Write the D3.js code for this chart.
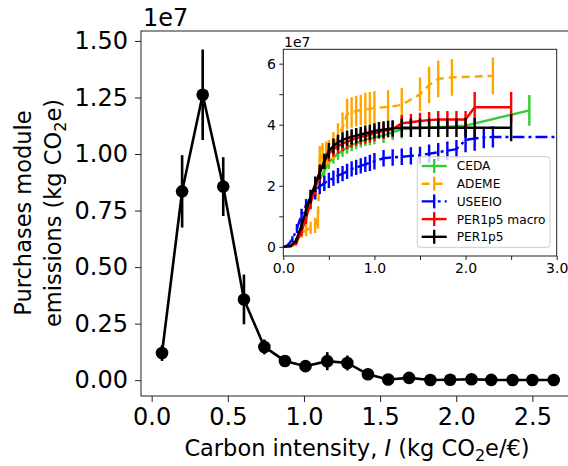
<!DOCTYPE html>
<html>
<head>
<meta charset="utf-8">
<script src="https://cdn.jsdelivr.net/npm/d3@7"></script>
<style>
  body { margin: 0; background: #fff; }
  svg { font-family: "DejaVu Sans", sans-serif; }
</style>
</head>
<body>
<svg id="chart" width="568" height="466"></svg>
<script>
// main panel: emissions per carbon-intensity bin (units of 1e7 kg CO2e)
var binX = [0.068, 0.2, 0.335, 0.47, 0.606, 0.74, 0.875, 1.01, 1.153, 1.285, 1.42, 1.553, 1.69, 1.83, 1.96, 2.1, 2.23, 2.37, 2.5, 2.64];
var binY = [0.12, 0.835, 1.262, 0.856, 0.357, 0.147, 0.085, 0.062, 0.084, 0.076, 0.026, 0.003, 0.01, 0.001, 0.002, 0.004, 0.0015, 0.001, 0.0008, 0.0005];
var binErr = [0.035, 0.16, 0.2, 0.13, 0.11, 0.033, 0.015, 0.015, 0.04, 0.033, 0.01, 0.005, 0.008, 0.003, 0.003, 0.005, 0.003, 0.002, 0.002, 0.001];

var mainXTicks = [0, 0.5, 1, 1.5, 2, 2.5];
var mainYTicks = [0, 0.25, 0.5, 0.75, 1, 1.25, 1.5];

// inset: cumulative emissions per database (units of 1e7)
var cedaX = [0, 0.08, 0.14, 0.2, 0.25, 0.3, 0.35, 0.4, 0.45, 0.5, 0.55, 0.6, 0.65, 0.7, 0.75, 0.8, 0.85, 0.9, 0.95, 1.0, 1.1, 1.2, 1.3, 2.0, 2.7];
var cedaY = [0, 0.02, 0.15, 0.55, 1.0, 1.45, 1.85, 2.2, 2.5, 2.75, 2.92, 3.05, 3.15, 3.25, 3.33, 3.4, 3.45, 3.5, 3.55, 3.58, 3.65, 3.75, 3.85, 3.97, 4.47];
var cedaE = [0.02, 0.03, 0.05, 0.1, 0.15, 0.18, 0.2, 0.2, 0.2, 0.2, 0.2, 0.2, 0.2, 0.2, 0.2, 0.2, 0.2, 0.2, 0.22, 0.22, 0.25, 0.25, 0.3, 0.3, 0.5];

var ademeX = [0, 0.1, 0.15, 0.2, 0.25, 0.3, 0.35, 0.38, 0.4, 0.43, 0.47, 0.5, 0.55, 0.6, 0.65, 0.7, 0.75, 0.8, 0.85, 0.9, 0.95, 1.0, 1.15, 1.3, 1.5, 1.6, 1.7, 1.85, 2.3];
var ademeY = [0, 0.05, 0.2, 0.45, 0.55, 0.62, 0.7, 0.9, 2.9, 3.0, 3.05, 3.1, 3.3, 3.6, 3.9, 4.35, 4.4, 4.45, 4.48, 4.5, 4.52, 4.55, 4.58, 4.65, 5.0, 5.3, 5.5, 5.55, 5.6];
var ademeE = [0.02, 0.05, 0.1, 0.15, 0.2, 0.2, 0.25, 0.3, 0.4, 0.4, 0.4, 0.4, 0.45, 0.45, 0.5, 0.5, 0.5, 0.5, 0.5, 0.55, 0.55, 0.55, 0.55, 0.55, 0.55, 0.6, 0.6, 0.6, 0.6];

var useeioX = [0, 0.05, 0.1, 0.15, 0.2, 0.25, 0.3, 0.35, 0.4, 0.45, 0.5, 0.55, 0.6, 0.65, 0.7, 0.75, 0.8, 0.85, 0.9, 0.95, 1.0, 1.1, 1.2, 1.3, 1.4, 1.5, 1.6, 1.7, 1.8, 1.9, 2.0, 2.1, 2.2, 2.3, 3.1];
var useeioY = [0, 0.05, 0.25, 0.6, 1.05, 1.35, 1.6, 1.8, 1.98, 2.08, 2.18, 2.25, 2.33, 2.4, 2.47, 2.55, 2.6, 2.65, 2.7, 2.75, 2.8, 2.9, 2.93, 2.95, 2.98, 3.0, 3.05, 3.1, 3.15, 3.2, 3.5, 3.55, 3.58, 3.6, 3.6];
var useeioE = [0.02, 0.05, 0.1, 0.15, 0.2, 0.22, 0.25, 0.25, 0.25, 0.25, 0.25, 0.25, 0.25, 0.25, 0.25, 0.25, 0.25, 0.25, 0.25, 0.27, 0.27, 0.27, 0.27, 0.27, 0.28, 0.28, 0.3, 0.3, 0.3, 0.3, 0.4, 0.4, 0.35, 0.35, 0.35];

var macroX = [0, 0.08, 0.14, 0.2, 0.25, 0.3, 0.35, 0.4, 0.45, 0.5, 0.55, 0.6, 0.65, 0.7, 0.75, 0.8, 0.85, 0.9, 0.95, 1.0, 1.1, 1.2, 1.3, 1.4, 1.5, 1.6, 1.7, 1.8, 1.9, 2.0, 2.1, 2.5];
var macroY = [0, 0.02, 0.12, 0.5, 0.95, 1.45, 1.95, 2.4, 2.8, 3.05, 3.2, 3.3, 3.38, 3.45, 3.5, 3.55, 3.6, 3.63, 3.67, 3.72, 3.8, 3.85, 4.05, 4.08, 4.12, 4.15, 4.17, 4.17, 4.17, 4.17, 4.57, 4.57];
var macroE = [0.02, 0.03, 0.08, 0.15, 0.2, 0.22, 0.25, 0.25, 0.25, 0.25, 0.25, 0.25, 0.25, 0.25, 0.25, 0.25, 0.25, 0.25, 0.25, 0.25, 0.27, 0.27, 0.27, 0.27, 0.27, 0.27, 0.28, 0.28, 0.28, 0.28, 0.5, 0.5];

var per15X = [0, 0.08, 0.14, 0.2, 0.25, 0.3, 0.35, 0.4, 0.45, 0.5, 0.55, 0.6, 0.65, 0.7, 0.75, 0.8, 0.85, 0.9, 0.95, 1.0, 1.05, 1.1, 1.15, 1.2, 1.3, 1.4, 1.5, 1.6, 1.7, 1.8, 1.9, 2.0, 2.1, 2.5];
var per15Y = [0, 0.03, 0.2, 0.7, 1.2, 1.65, 2.05, 2.45, 2.8, 3.15, 3.3, 3.42, 3.5, 3.56, 3.6, 3.64, 3.68, 3.72, 3.75, 3.8, 3.82, 3.84, 3.86, 3.88, 3.9, 3.9, 3.9, 3.9, 3.9, 3.9, 3.9, 3.9, 3.9, 3.9];
var per15E = [0.02, 0.03, 0.08, 0.15, 0.2, 0.22, 0.25, 0.25, 0.25, 0.25, 0.25, 0.25, 0.25, 0.25, 0.25, 0.25, 0.25, 0.25, 0.25, 0.25, 0.27, 0.27, 0.27, 0.27, 0.3, 0.3, 0.3, 0.3, 0.3, 0.3, 0.3, 0.32, 0.32, 0.44];

var seriesNames = ["CEDA", "ADEME", "USEEIO", "PER1p5 macro", "PER1p5"];
var seriesColors = ["limegreen", "orange", "blue", "red", "black"];
var seriesDash = [null, "8,5", "12,4,3,4", null, null];

var insetXTicks = [0, 0.5, 1, 1.5, 2, 2.5, 3];
var insetYTicks = [0, 1, 2, 3, 4, 5, 6];

var series = [
  { x: cedaX, y: cedaY, e: cedaE },
  { x: ademeX, y: ademeY, e: ademeE },
  { x: useeioX, y: useeioY, e: useeioE },
  { x: macroX, y: macroY, e: macroE },
  { x: per15X, y: per15Y, e: per15E }
].map(function (s, i) {
  return {
    name: seriesNames[i], color: seriesColors[i], dash: seriesDash[i],
    pts: s.x.map(function (v, j) { return { x: v, y: s.y[j], e: s.e[j] }; })
  };
});

var svg = d3.select("#chart");

// ---------- main axes ----------
var x = d3.scaleLinear().domain([-0.07, 2.76]).range([141, 572]);
var y = d3.scaleLinear().domain([-0.07, 1.544]).range([396, 31]);

svg.append("rect")
  .attr("x", 141).attr("y", 31)
  .attr("width", 572 - 141).attr("height", 396 - 31)
  .attr("fill", "none").attr("stroke", "#222").attr("stroke-width", 1);

var xAxis = svg.append("g")
  .attr("transform", "translate(0,396)")
  .call(d3.axisBottom(x).tickValues(mainXTicks).tickFormat(d3.format(".1f")).tickSize(6).tickPadding(6));
var yAxis = svg.append("g")
  .attr("transform", "translate(141,0)")
  .call(d3.axisLeft(y).tickValues(mainYTicks).tickFormat(d3.format(".2f")).tickSize(6).tickPadding(7));
[xAxis, yAxis].forEach(function (a) {
  a.select(".domain").remove();
  a.selectAll("line").attr("stroke", "#222");
  a.selectAll("text").attr("font-size", 24).attr("font-family", "DejaVu Sans").attr("fill", "#000");
});

svg.append("text").attr("x", 143).attr("y", 26)
  .attr("font-size", 24).text("1e7");

// axis labels
var xl = svg.append("text").attr("x", 357).attr("y", 456)
  .attr("text-anchor", "middle").attr("font-size", 22.5);
xl.append("tspan").text("Carbon intensity, ");
xl.append("tspan").attr("font-style", "italic").text("I");
xl.append("tspan").text(" (kg CO");
xl.append("tspan").attr("font-size", 16).attr("dy", 5).text("2");
xl.append("tspan").attr("dy", -5).text("e/€)");

svg.append("text").attr("transform", "translate(31,213) rotate(-90)")
  .attr("text-anchor", "middle").attr("font-size", 22.5).text("Purchases module");
var yl = svg.append("text").attr("transform", "translate(61,213) rotate(-90)")
  .attr("text-anchor", "middle").attr("font-size", 22.5);
yl.append("tspan").text("emissions (kg CO");
yl.append("tspan").attr("font-size", 16).attr("dy", 5).text("2");
yl.append("tspan").attr("dy", -5).text("e)");

var mainPts = binX.map(function (v, i) { return { x: v, y: binY[i], e: binErr[i] }; });

svg.append("g").selectAll("line")
  .data(mainPts).join("line")
  .attr("x1", function (d) { return x(d.x); }).attr("x2", function (d) { return x(d.x); })
  .attr("y1", function (d) { return y(d.y - d.e); }).attr("y2", function (d) { return y(d.y + d.e); })
  .attr("stroke", "#000").attr("stroke-width", 2.6);

svg.append("path").datum(mainPts)
  .attr("d", d3.line().x(function (d) { return x(d.x); }).y(function (d) { return y(d.y); }))
  .attr("fill", "none").attr("stroke", "#000").attr("stroke-width", 2.6);

svg.append("g").selectAll("circle")
  .data(mainPts).join("circle")
  .attr("cx", function (d) { return x(d.x); }).attr("cy", function (d) { return y(d.y); })
  .attr("r", 6.3).attr("fill", "#000");

// ---------- inset ----------
var ix = d3.scaleLinear().domain([0, 3]).range([283.3, 556.7]);
var iy = d3.scaleLinear().domain([-0.3, 6.47]).range([256, 49.3]);

svg.append("rect")
  .attr("x", 283.3).attr("y", 49.3)
  .attr("width", 556.7 - 283.3).attr("height", 256 - 49.3)
  .attr("fill", "#fff");

svg.append("clipPath").attr("id", "insetClip")
  .append("rect").attr("x", 283.3).attr("y", 49.3)
  .attr("width", 556.7 - 283.3).attr("height", 256 - 49.3);

var ig = svg.append("g").attr("clip-path", "url(#insetClip)");

series.forEach(function (s) {
  var g = ig.append("g");
  g.append("path").datum(s.pts)
    .attr("d", d3.line().x(function (d) { return ix(d.x); }).y(function (d) { return iy(d.y); }))
    .attr("fill", "none").attr("stroke", s.color).attr("stroke-width", 2.4)
    .attr("stroke-dasharray", s.dash);
  g.selectAll("line")
    .data(s.pts).join("line")
    .attr("x1", function (d) { return ix(d.x); }).attr("x2", function (d) { return ix(d.x); })
    .attr("y1", function (d) { return iy(d.y - d.e); }).attr("y2", function (d) { return iy(d.y + d.e); })
    .attr("stroke", s.color).attr("stroke-width", 2.4);
});

svg.append("rect")
  .attr("x", 283.3).attr("y", 49.3)
  .attr("width", 556.7 - 283.3).attr("height", 256 - 49.3)
  .attr("fill", "none").attr("stroke", "#222").attr("stroke-width", 1);

var ixAxis = svg.append("g")
  .attr("transform", "translate(0,256)")
  .call(d3.axisBottom(ix).tickValues(insetXTicks)
    .tickFormat(function (d) { return d % 1 === 0 ? d3.format(".1f")(d) : ""; })
    .tickSize(4).tickPadding(3));
var iyAxis = svg.append("g")
  .attr("transform", "translate(283.3,0)")
  .call(d3.axisLeft(iy).tickValues(insetYTicks)
    .tickFormat(function (d) { return d % 2 === 0 ? d : ""; })
    .tickSize(4).tickPadding(3.5));
[ixAxis, iyAxis].forEach(function (a) {
  a.select(".domain").remove();
  a.selectAll("line").attr("stroke", "#222");
  a.selectAll("text").attr("font-size", 14).attr("font-family", "DejaVu Sans").attr("fill", "#000");
});

svg.append("text").attr("x", 284).attr("y", 46.5)
  .attr("font-size", 14).text("1e7");

// legend
var leg = svg.append("g");
leg.append("rect")
  .attr("x", 417.3).attr("y", 156.7).attr("width", 132.7).attr("height", 90.6)
  .attr("rx", 3).attr("fill", "#fff").attr("fill-opacity", 0.8)
  .attr("stroke", "#ccc").attr("stroke-width", 1);

var legItem = leg.selectAll("g.item")
  .data(series).join("g").attr("class", "item")
  .attr("transform", function (d, i) { return "translate(0," + (166 + i * 17.7) + ")"; });
legItem.append("line")
  .attr("x1", 421.7).attr("x2", 446.7).attr("y1", 0).attr("y2", 0)
  .attr("stroke", function (d) { return d.color; }).attr("stroke-width", 2.4)
  .attr("stroke-dasharray", function (d) { return d.dash; });
legItem.append("line")
  .attr("x1", 434.2).attr("x2", 434.2).attr("y1", -7).attr("y2", 7)
  .attr("stroke", function (d) { return d.color; }).attr("stroke-width", 2.4);
legItem.append("text")
  .attr("x", 456.7).attr("y", 4.4)
  .attr("font-size", 12.2).text(function (d) { return d.name; });
</script>
</body>
</html>
